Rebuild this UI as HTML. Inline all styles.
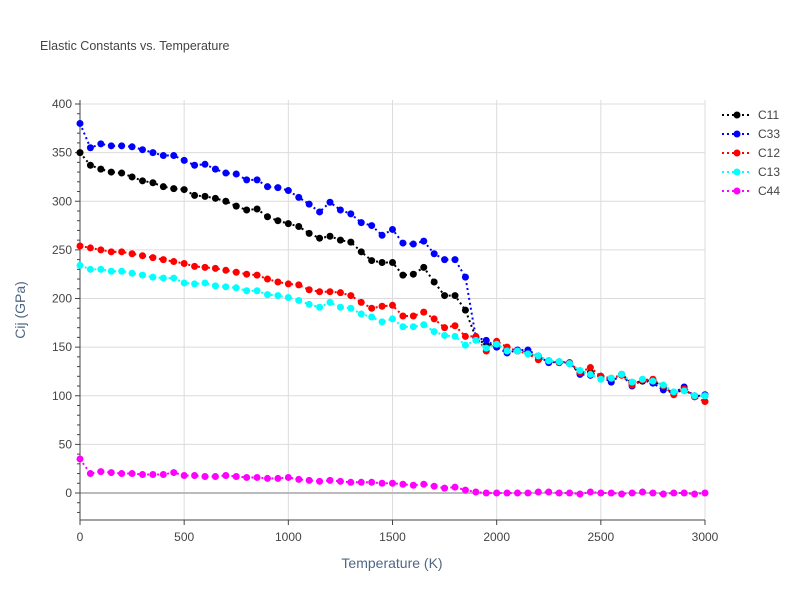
<!DOCTYPE html>
<html><head><meta charset="utf-8"><style>
body{margin:0;background:#fff;font-family:"Liberation Sans",sans-serif}
svg text{font-family:"Liberation Sans",sans-serif}
</style></head><body>
<svg id="chart" width="800" height="600" xmlns="http://www.w3.org/2000/svg">
<rect width="800" height="600" fill="#fff"/>
<text x="40" y="50" font-size="12.5" fill="#444">Elastic Constants vs. Temperature</text>
<g id="grid"></g><g id="axes"></g><g id="series"></g><g id="legend"></g>
<text x="392" y="568" font-size="14" fill="#506784" text-anchor="middle">Temperature (K)</text>
<text transform="translate(25,310) rotate(-90)" font-size="14" fill="#506784" text-anchor="middle">Cij (GPa)</text>
</svg>
<script>
const temps=[];for(let i=0;i<=60;i++)temps.push(i*50);
const c11=[350,337,333,330,329,325,321,319,315,313,312,306,305,303,300,295,291,292,284,280,277,274,267,262,264,260,258,248,239,237,237,224,225,232,217,203,203,188,160,152,153,146,146,144,140,136,134,133,124,124,120,117,122,113,115,116,108,103,106,100,100];
const c33=[380,355,359,357,357,356,353,350,347,347,342,337,338,333,329,328,322,322,315,314,311,304,297,289,299,291,287,278,275,265,271,257,256,259,246,240,240,222,160,157,150,144,147,147,141,134,135,134,122,121,120,114,122,110,116,113,106,103,109,99,101];
const c12=[254,252,250,248,248,246,244,242,240,238,236,233,232,231,229,227,225,224,220,217,215,214,209,207,207,206,203,196,190,192,193,182,182,186,179,170,172,161,161,146,156,150,146,143,137,136,134,134,124,129,120,118,121,111,116,117,110,101,107,99,94];
const c13=[234,230,230,228,228,226,224,222,221,221,216,215,216,213,212,211,208,208,204,203,201,198,194,191,196,191,190,184,181,176,179,171,171,173,166,162,161,152,157,149,153,146,146,143,141,136,135,133,126,122,117,118,122,114,117,115,111,104,105,100,100];
const c44=[35,20,22,21,20,20,19,19,19,21,18,18,17,17,18,17,16,16,15,15,16,14,13,12,13,12,11,11,11,10,10,9,8,9,7,5,6,3,1,0,0,0,0,0,1,1,0,0,-1,1,0,0,-1,0,1,0,-1,0,0,-1,0];
const xTicks=[0,500,1000,1500,2000,2500,3000];
const yTicks=[0,50,100,150,200,250,300,350,400];
const seriesNames=["C11","C33","C12","C13","C44"];
const seriesColors=["#000000","#0000ff","#ff0000","#00ffff","#ff00ff"];
const seriesData=[c11,c33,c12,c13,c44];
const L=80,R=705,T=100,B=520,Y0=493,Y400=104;
const sx=v=>L+(v-0)*(R-L)/3000;
const sy=v=>Y0-(v)*(Y0-Y400)/400;
const NS="http://www.w3.org/2000/svg";
function mk(tag,attrs,parent){const e=document.createElementNS(NS,tag);for(const k in attrs)e.setAttribute(k,attrs[k]);parent.appendChild(e);return e;}
const grid=document.getElementById('grid'),axes=document.getElementById('axes'),ser=document.getElementById('series'),leg=document.getElementById('legend');
xTicks.forEach(t=>{
 const l=mk('line',{x1:sx(t),x2:sx(t),y1:T,y2:B,stroke:'#dcdcdc','stroke-width':1},grid);
 
 
 const tx=mk('text',{x:sx(t),y:B+21,'font-size':12,fill:'#444','text-anchor':'middle'},axes);
 
 
 tx.textContent=t;
 mk('line',{x1:sx(t),x2:sx(t),y1:B,y2:B+5,stroke:'#444'},axes);
});
yTicks.forEach(t=>{
 const l=mk('line',{x1:L,x2:R,y1:sy(t),y2:sy(t),stroke:t===0?'#bbb':'#dcdcdc','stroke-width':t===0?2:1},grid);
 
 
 const tx=mk('text',{x:L-8,y:sy(t)+4,'font-size':12,fill:'#444','text-anchor':'end'},axes);
 
 
 tx.textContent=t;
});
for(let v=-20;v<=400;v+=10){mk('line',{x1:L-(v%50===0?5:3),x2:L,y1:sy(v),y2:sy(v),stroke:'#444'},axes);}
mk('line',{x1:L,x2:L,y1:T,y2:B,stroke:'#444','stroke-width':1},axes);
mk('line',{x1:L,x2:R,y1:B,y2:B,stroke:'#444','stroke-width':1},axes);
seriesData.forEach((d,si)=>{
 const g=mk('g',{},ser);
 
 
 const pts=d.map((v,i)=>sx(temps[i])+','+sy(v)).join(' ');
 mk('polyline',{points:pts,fill:'none',stroke:seriesColors[si],'stroke-width':2,'stroke-dasharray':'2,3'},g);
 d.forEach((v,i)=>{
  const c=mk('circle',{cx:sx(temps[i]),cy:sy(v),r:3.5,fill:seriesColors[si]},g);
  
  
 });
 const ly=115+si*19;
 const lg=mk('g',{},leg);
 
 
 mk('line',{x1:722,x2:752,y1:ly,y2:ly,stroke:seriesColors[si],'stroke-width':2,'stroke-dasharray':'2,3'},lg);
 mk('circle',{cx:737,cy:ly,r:3.5,fill:seriesColors[si]},lg);
 const t=mk('text',{x:758,y:ly+4,'font-size':12,fill:'#444'},lg);
 t.textContent=seriesNames[si];
});
</script>
</body></html>
